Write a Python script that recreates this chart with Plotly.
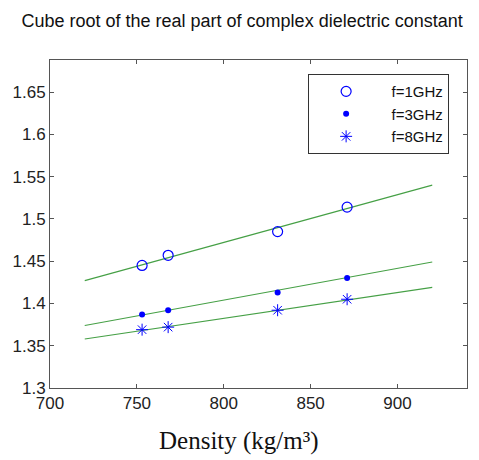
import plotly.graph_objects as go

density = [753, 768, 831, 871]
f1 = [1.445, 1.457, 1.485, 1.514]
f3 = [1.387, 1.392, 1.413, 1.430]
f8 = [1.369, 1.372, 1.392, 1.405]

fit_x = [720, 920]
fit1 = [1.427, 1.540]
fit3 = [1.374, 1.449]
fit8 = [1.358, 1.419]

xticks = [700, 750, 800, 850, 900]
yticks = [1.3, 1.35, 1.4, 1.45, 1.5, 1.55, 1.6, 1.65]
ytick_text = ["1.3", "1.35", "1.4", "1.45", "1.5", "1.55", "1.6", "1.65"]

green = "#46a046"
blue = "#0000ff"
sans = "Arial, Liberation Sans, sans-serif"
serif = "Times New Roman, Liberation Serif, serif"
nb = "\u00a0\u00a0"

fig = go.Figure()
for fy in (fit1, fit3, fit8):
    fig.add_trace(go.Scatter(x=fit_x, y=fy, mode="lines",
                             line=dict(color=green, width=1.1),
                             showlegend=False, hoverinfo="skip"))

fig.add_trace(go.Scatter(x=density, y=f1, mode="markers", name=nb + "f=1GHz",
                         marker=dict(symbol="circle-open", size=10, color=blue,
                                     line=dict(width=1.2, color=blue))))
fig.add_trace(go.Scatter(x=density, y=f3, mode="markers", name=nb + "f=3GHz",
                         marker=dict(symbol="circle", size=6, color=blue)))
fig.add_trace(go.Scatter(x=density, y=f8, mode="markers", name=nb + "f=8GHz",
                         marker=dict(symbol="asterisk-open", size=10, color=blue,
                                     line=dict(width=1, color=blue))))

axis_common = dict(showline=True, linecolor="#555", linewidth=1, mirror="ticks",
                   ticks="inside", ticklen=4, tickcolor="#555", showgrid=False,
                   zeroline=False, automargin=False,
                   tickfont=dict(family=sans, size=17, color="#222"))

fig.update_layout(
    width=471, height=452,
    margin=dict(l=42, r=12, t=52, b=72, autoexpand=False),
    paper_bgcolor="white", plot_bgcolor="white",
    title=dict(text="Cube root of the real part of complex dielectric constant",
               x=0.497, xanchor="center", y=0.986, yanchor="top",
               pad=dict(t=0, b=0),
               font=dict(family=sans, size=18, color="#111")),
    xaxis=dict(range=[700, 940], tickvals=xticks, **axis_common),
    yaxis=dict(range=[1.3, 1.688], tickvals=yticks, ticktext=ytick_text,
               **axis_common),
    legend=dict(x=0.619, y=0.957, xanchor="left", yanchor="top",
                bgcolor="white", bordercolor="#333", borderwidth=1,
                font=dict(family=sans, size=15, color="#111"),
                itemwidth=64),
    annotations=[dict(text="Density (kg/m³)", xref="paper", yref="paper",
                      x=0.453, y=0, xanchor="center", yanchor="middle",
                      yshift=-53, showarrow=False,
                      font=dict(family=serif, size=25, color="#111"))],
)

fig.write_html("out.html")
